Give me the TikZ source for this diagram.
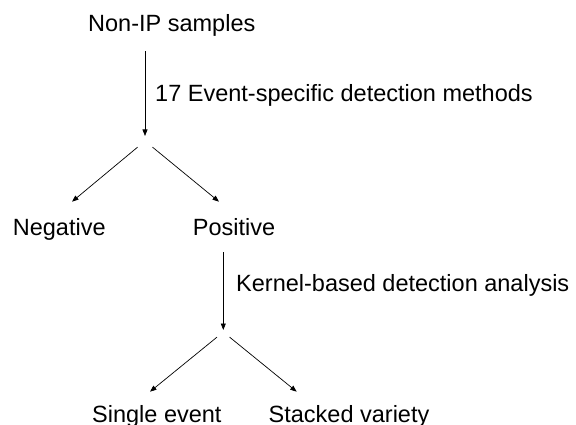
\documentclass[tikz,border=0pt]{standalone}
\usepackage{fontspec}
\setmainfont{Liberation Sans}
\usetikzlibrary{arrows.meta}
\begin{document}
\begin{tikzpicture}[x=1pt,y=-1pt,
  lbl/.style={anchor=base west,inner sep=0pt,font=\fontsize{23.5}{28}\selectfont},
  arr/.style={line width=0.7pt,-{Triangle[length=6.5pt,width=5pt]}}]
\useasboundingbox (0,0) rectangle (576,425);

% texts
\node[lbl] (src) at (88,32) {Non-IP samples};
\node[lbl] (m1) at (155,101.7) {17 Event-specific detection methods};
\node[lbl] (neg) at (12.7,235) {Negative};
\node[lbl] (pos) at (192.7,235) {Positive};
\node[lbl] (m2) at (236,291.7) {Kernel-based detection analysis};
\node[lbl] (single) at (92,422) {Single event};
\node[lbl] (stacked) at (268.5,422) {Stacked variety};

% split points and arrow ends
\coordinate (s1) at (145,141);
\coordinate (s2) at (223.3,332);
\coordinate (negin) at (72,201.7);
\coordinate (posin) at (219,201.7);
\coordinate (singlein) at (150,391.7);
\coordinate (stackedin) at (296.7,391.7);

% first stage
\draw[arr,shorten <=14pt,shorten >=5pt] (src.south -| s1) -- (s1);
\draw[arr,shorten <=9.7pt] (s1) -- (negin);
\draw[arr,shorten <=9.7pt] (s1) -- (posin);

% second stage
\draw[arr,shorten <=16.7pt,shorten >=2pt] (pos.south -| s2) -- (s2);
\draw[arr,shorten <=8.1pt] (s2) -- (singlein);
\draw[arr,shorten <=8.1pt] (s2) -- (stackedin);
\end{tikzpicture}
\end{document}
